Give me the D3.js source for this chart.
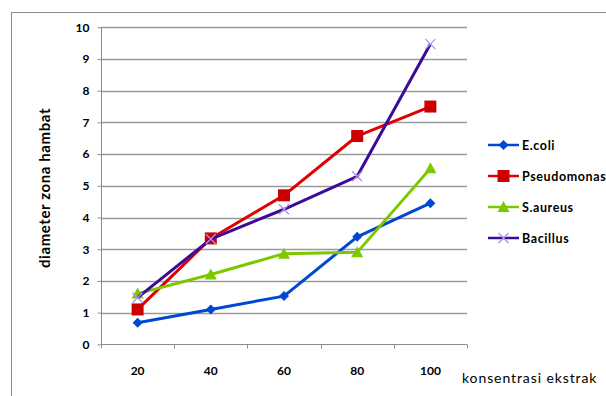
<!DOCTYPE html>
<html><head><meta charset="utf-8">
<script src="https://cdn.jsdelivr.net/npm/d3@7"></script>
<style>body{margin:0;background:#fff}svg{display:block}</style>
</head><body>
<svg id="c" width="606" height="396"></svg>
<script>
const categories = ["20","40","60","80","100"];
const ecoli = [0.68, 1.1, 1.52, 3.39, 4.45];
const pseudomonas = [1.1, 3.34, 4.7, 6.57, 7.5];
const saureus = [1.6, 2.2, 2.86, 2.9, 5.55];
const bacillus = [1.47, 3.32, 4.26, 5.3, 9.47];
const yTicks = [0,1,2,3,4,5,6,7,8,9,10];
const seriesNames = ["E.coli","Pseudomonas","S.aureus","Bacillus"];

const series = [
  {name: seriesNames[0], values: ecoli, line: "#0047d4", fill: "#0047d4", marker: "diamond"},
  {name: seriesNames[1], values: pseudomonas, line: "#e00000", fill: "#cc0000", marker: "square"},
  {name: seriesNames[2], values: saureus, line: "#7cc800", fill: "#7cc800", marker: "triangle"},
  {name: seriesNames[3], values: bacillus, line: "#3a0c98", fill: "#b48ef0", marker: "x"}
];

const svg = d3.select("#c");
const font = "Lato, 'Open Sans', sans-serif";

// outer border
svg.append("rect").attr("x",11.5).attr("y",12.5).attr("width",640).attr("height",440)
  .attr("fill","none").attr("stroke","#8c8c8c").attr("stroke-width",1);

const L = 101, R = 467, T = 27.3, B = 344.3;
const x = d3.scaleBand().domain(categories).range([L, R]);
const y = d3.scaleLinear().domain([0,10]).range([B, T]);

// gridlines
svg.append("g").selectAll("line").data(yTicks.filter(d=>d>0)).join("line")
  .attr("x1",L).attr("x2",R).attr("y1",d=>Math.round(y(d))+0.5).attr("y2",d=>Math.round(y(d))+0.5)
  .attr("stroke","#9a9a9a").attr("stroke-width",1.5);

// y axis
const yAxis = d3.axisLeft(y).tickValues(yTicks).tickSize(4).tickPadding(8).tickFormat(d3.format("d"));
const gy = svg.append("g").attr("transform",`translate(${L+0.5},0)`).call(yAxis);
gy.select(".domain").attr("stroke","#8c8c8c").attr("d",`M0,${T}V${B}`);
gy.selectAll(".tick line").attr("stroke","#8c8c8c");
gy.selectAll(".tick text").attr("font-family",font).attr("font-size",12).attr("font-weight","bold").attr("fill","#000");

// x axis
const xAxis = d3.axisBottom(x).tickSize(0).tickPadding(22);
const gx = svg.append("g").attr("transform",`translate(0,${Math.round(B)+0.5})`).call(xAxis);
gx.select(".domain").attr("stroke","#8c8c8c").attr("d",`M${L},0H${R}`);
gx.selectAll(".tick text").attr("font-family",font).attr("font-size",12).attr("font-weight","bold").attr("fill","#000");
// boundary ticks
const bounds = categories.map(c=>x(c)).concat([R]);
gx.append("g").selectAll("line").data(bounds).join("line")
  .attr("x1",d=>Math.round(d)+0.5).attr("x2",d=>Math.round(d)+0.5).attr("y1",0).attr("y2",4)
  .attr("stroke","#8c8c8c");

// axis titles
svg.append("text").attr("transform",`translate(50,188) rotate(-90)`).attr("text-anchor","middle")
  .attr("font-family",font).attr("font-size",15).attr("font-weight","bold").attr("letter-spacing",0.6)
  .text("diameter zona hambat");
svg.append("text").attr("x",462).attr("y",383)
  .attr("font-family",font).attr("font-size",14).attr("letter-spacing",0.9).text("konsentrasi ekstrak");

const cx = (i) => x(categories[i]) + x.bandwidth()/2;
const line = d3.line().x((d,i)=>cx(i)).y(d=>y(d));

function drawMarker(g, s, px, py) {
  if (s.marker === "diamond") {
    g.append("path").attr("d",`M${px},${py-5}L${px+5},${py}L${px},${py+5}L${px-5},${py}Z`).attr("fill",s.fill);
  } else if (s.marker === "square") {
    g.append("rect").attr("x",px-6).attr("y",py-6).attr("width",12).attr("height",12).attr("fill",s.fill);
  } else if (s.marker === "triangle") {
    g.append("path").attr("d",`M${px},${py-6}L${px+6},${py+5}L${px-6},${py+5}Z`).attr("fill",s.fill);
  } else {
    g.append("path").attr("d",`M${px-5},${py-5}L${px+5},${py+5}M${px-5},${py+5}L${px+5},${py-5}`)
      .attr("stroke",s.fill).attr("stroke-width",1.3);
  }
}

series.forEach(s=>{
  const g = svg.append("g");
  g.append("path").datum(s.values).attr("d",line).attr("fill","none")
    .attr("stroke",s.line).attr("stroke-width",3).attr("stroke-linejoin","round");
  s.values.forEach((v,i)=>drawMarker(g, s, cx(i), y(v)));
});

// legend
const ly0 = 145, ldy = 31;
series.forEach((s,i)=>{
  const g = svg.append("g");
  const yy = ly0 + i*ldy;
  g.append("line").attr("x1",488).attr("x2",519).attr("y1",yy).attr("y2",yy)
    .attr("stroke",s.line).attr("stroke-width",2.5);
  drawMarker(g, s, 503.5, yy);
  g.append("text").attr("x",522).attr("y",yy+4.5).attr("font-family",font).attr("font-size",12.5)
    .attr("font-weight","bold").attr("letter-spacing",0.6).text(s.name);
});
</script>
</body></html>
